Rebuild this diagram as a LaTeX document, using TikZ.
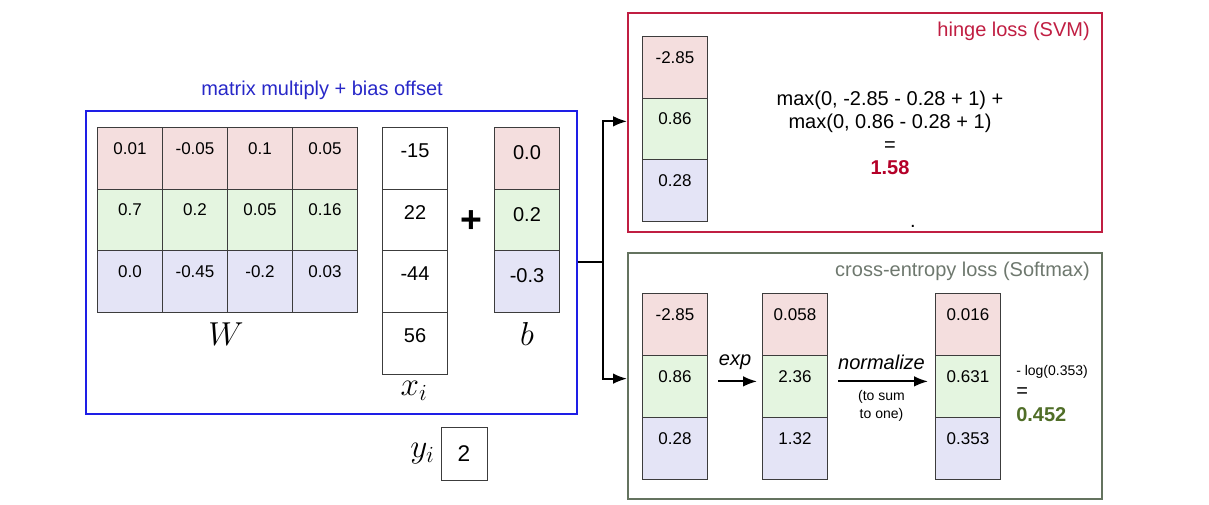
\documentclass[tikz,border=0pt]{standalone}
\usepackage{fontspec}
\setmainfont{Liberation Sans}
\usetikzlibrary{positioning}
\usetikzlibrary{arrows.meta}

\definecolor{mulblue}{RGB}{30,30,230}
\definecolor{multext}{RGB}{40,40,200}
\definecolor{hingered}{RGB}{192,30,66}
\definecolor{lossred}{RGB}{180,0,40}
\definecolor{ceegreen}{RGB}{100,115,95}
\definecolor{ceetext}{RGB}{110,120,110}
\definecolor{probgreen}{RGB}{80,110,40}
\definecolor{cellgray}{RGB}{60,60,60}
\definecolor{row0}{RGB}{244,222,222}
\definecolor{row1}{RGB}{228,245,224}
\definecolor{row2}{RGB}{228,228,246}

\newcommand{\cellfont}{\fontsize{12.75}{15}\selectfont}
\newcommand{\bigfont}{\fontsize{15}{17.25}\selectfont}
\newcommand{\smallfont}{\fontsize{10.5}{13.5}\selectfont}
\newcommand{\mathfont}{\fontsize{24}{28}\selectfont}

\tikzset{
	cell/.style={draw=cellgray, line width=0.75pt, inner sep=0pt, anchor=north west,
		minimum width=48.75pt, text height=20pt, text depth=26.35pt, font=\cellfont},
	bigcell/.style={cell, text height=22.5pt, text depth=23.85pt, font=\bigfont},
	frame/.style={line width=1.2pt, inner sep=0pt, anchor=north west},
	wire/.style={black, line width=1.4pt},
	arrowhead/.style={-{Latex[length=10.5pt,width=8pt]}},
	mathlabel/.style={font=\mathfont}
}

\begin{document}
\begin{tikzpicture}[x=0.75pt, y=-0.75pt]
			\useasboundingbox (0,0) rectangle (1209,505);
			% scores: W x + b
			\node[frame, draw=mulblue, minimum width=368.25pt, minimum height=227.25pt] (linbox) at (85,110) {};
			\node[text=multext, font=\bigfont] (lintitle) at (322,90) {matrix multiply + bias offset};
			\foreach \vals [count=\r from 0] in {{0.01,-0.05,0.1,0.05},{0.7,0.2,0.05,0.16},{0.0,-0.45,-0.2,0.03}}
				\foreach \v [count=\c from 0] in \vals
					\node[cell, fill=row\r] (W-\r-\c) at ({97+65*\c},{127+61.7*\r}) {\v};
			\foreach \v [count=\r from 0] in {-15,22,-44,56}
				\node[bigcell, fill=white] (x-\r) at (382,{127+61.75*\r}) {\v};
			\foreach \v [count=\r from 0] in {0.0,0.2,-0.3}
				\node[bigcell, fill=row\r, text height=24pt, text depth=22.35pt] (b-\r) at (494,{127+61.7*\r}) {\v};
			\node[font=\fontsize{28}{28}\selectfont\bfseries] (plus) at (471,222) {+};
			\node[mathlabel, font=\fontsize{27}{32}\selectfont] (Wname) at (226,334) {$W$};
			\node[mathlabel] (xname) at (414,391) {$x_i$};
			\node[mathlabel] (bname) at (527,334) {$b$};
			\node[draw=cellgray, line width=0.75pt, inner sep=0pt, minimum width=34.5pt, minimum height=39pt,
				font=\fontsize{17}{20}\selectfont] (yval) at (464,454) {2};
			\node[mathlabel, left=1pt of yval] (yname) {$y_i$};
			% hinge loss
			\node[frame, draw=hingered, minimum width=355.5pt, minimum height=164.25pt] (svmbox) at (627,12) {};
			\node[anchor=east, inner sep=0pt, text=hingered, font=\bigfont] (svmtitle) at (1090,31) {hinge loss (SVM)};
			\foreach \v [count=\r from 0] in {-2.85,0.86,0.28}
				\node[cell, fill=row\r] (svm-\r) at (642,{36+61.7*\r}) {\v};
			\node[align=center, font=\bigfont] (svmsum) at (890,133)
				{max(0, -2.85 - 0.28 + 1) +\\max(0, 0.86 - 0.28 + 1)\\=\\\textcolor{lossred}{\textbf{1.58}}};
			\node[anchor=base, inner sep=0pt, font=\bigfont] (dot) at (913,228) {.};
			% cross-entropy loss
			\node[frame, draw=ceegreen, minimum width=355.5pt, minimum height=184.5pt] (ceebox) at (627,252) {};
			\node[anchor=east, inner sep=0pt, text=ceetext, font=\bigfont] (ceetitle) at (1090,271) {cross-entropy loss (Softmax)};
			\foreach \v [count=\r from 0] in {-2.85,0.86,0.28}
				\node[cell, fill=row\r] (score-\r) at (642,{293+62*\r}) {\v};
			\foreach \v [count=\r from 0] in {0.058,2.36,1.32}
				\node[cell, fill=row\r] (expsc-\r) at (762,{293+62*\r}) {\v};
			\foreach \v [count=\r from 0] in {0.016,0.631,0.353}
				\node[cell, fill=row\r] (prob-\r) at (935,{293+62*\r}) {\v};
			\draw[wire, arrowhead, shorten <=7.5pt, shorten >=3.75pt] ([yshift=3.75pt]score-1.east)
				-- node[above=5pt, font=\bigfont\itshape] (explabel) {exp} ([yshift=3.75pt]expsc-1.west);
			\draw[wire, arrowhead, shorten <=7.5pt, shorten >=5.25pt] ([yshift=3.75pt]expsc-1.east)
				-- node[above=5pt, font=\bigfont\itshape] (normlabel) {normalize}
				node[below=3pt, align=center, font=\smallfont] (sumlabel) {(to sum\\to one)} ([yshift=3.75pt]prob-1.west);
			\node[anchor=west, inner sep=0pt, font=\smallfont] (logtext) at (1016,372) {- log(0.353)};
			\node[anchor=west, inner sep=0pt, font=\bigfont] (logeq) at (1016,393) {=};
			\node[anchor=west, inner sep=0pt, text=probgreen, font=\bigfont\bfseries] (ceeval) at (1016,415) {0.452};
			% split to both losses
			\draw[wire] (linbox.east) -- ++(25,0) coordinate (split);
			\draw[wire, arrowhead] (split) |- (svmbox.west |- svm-1.mid);
			\draw[wire, arrowhead] (split) |- (ceebox.west |- score-1.mid);
		\end{tikzpicture}
\end{document}
